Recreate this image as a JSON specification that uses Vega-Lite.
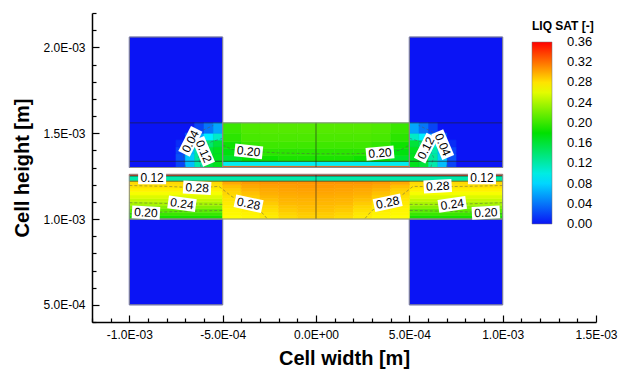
{
  "$schema": "https://vega.github.io/schema/vega-lite/v6.json",
  "width": 504,
  "height": 309,
  "autosize": {"type": "none"},
  "padding": {"left": 92, "top": 13, "right": 26, "bottom": 49},
  "background": "white",
  "config": {"view": {"stroke": null}, "font": "Liberation Sans"},
  "datasets": {
    "cells": [
      {"x":-0.001,"x2":-0.0005,"y":0.0005,"y2":0.001,"s":0},
      {"x":0.0005,"x2":0.001,"y":0.0005,"y2":0.001,"s":0},
      {"x":-0.001,"x2":-0.0005,"y":0.0013,"y2":0.00206,"s":0},
      {"x":0.0005,"x2":0.001,"y":0.0013,"y2":0.00206,"s":0},

      {"x":-0.00075,"x2":-0.0007,"y":0.0013,"y2":0.00134,"s":0.02},
      {"x":-0.0007,"x2":-0.00065,"y":0.0013,"y2":0.00134,"s":0.07},
      {"x":-0.00065,"x2":-0.0006,"y":0.0013,"y2":0.00134,"s":0.12},
      {"x":-0.0006,"x2":-0.00055,"y":0.0013,"y2":0.00134,"s":0.16},
      {"x":-0.00055,"x2":-0.0005,"y":0.0013,"y2":0.00134,"s":0.17},
      {"x":-0.00075,"x2":-0.0007,"y":0.00134,"y2":0.00138,"s":0.025},
      {"x":-0.0007,"x2":-0.00065,"y":0.00134,"y2":0.00138,"s":0.075},
      {"x":-0.00065,"x2":-0.0006,"y":0.00134,"y2":0.00138,"s":0.125},
      {"x":-0.0006,"x2":-0.00055,"y":0.00134,"y2":0.00138,"s":0.17},
      {"x":-0.00055,"x2":-0.0005,"y":0.00134,"y2":0.00138,"s":0.17},
      {"x":-0.00075,"x2":-0.0007,"y":0.00138,"y2":0.00142,"s":0.02},
      {"x":-0.0007,"x2":-0.00065,"y":0.00138,"y2":0.00142,"s":0.07},
      {"x":-0.00065,"x2":-0.0006,"y":0.00138,"y2":0.00142,"s":0.12},
      {"x":-0.0006,"x2":-0.00055,"y":0.00138,"y2":0.00142,"s":0.16},
      {"x":-0.00055,"x2":-0.0005,"y":0.00138,"y2":0.00142,"s":0.17},
      {"x":-0.00075,"x2":-0.0007,"y":0.00142,"y2":0.00146,"s":0.01},
      {"x":-0.0007,"x2":-0.00065,"y":0.00142,"y2":0.00146,"s":0.058},
      {"x":-0.00065,"x2":-0.0006,"y":0.00142,"y2":0.00146,"s":0.1},
      {"x":-0.0006,"x2":-0.00055,"y":0.00142,"y2":0.00146,"s":0.14},
      {"x":-0.00055,"x2":-0.0005,"y":0.00142,"y2":0.00146,"s":0.16},
      {"x":-0.0007,"x2":-0.00065,"y":0.00146,"y2":0.0015,"s":0.03},
      {"x":-0.00065,"x2":-0.0006,"y":0.00146,"y2":0.0015,"s":0.06},
      {"x":-0.0006,"x2":-0.00055,"y":0.00146,"y2":0.0015,"s":0.09},
      {"x":-0.00055,"x2":-0.0005,"y":0.00146,"y2":0.0015,"s":0.11},
      {"x":-0.00065,"x2":-0.0006,"y":0.0015,"y2":0.00156,"s":0.02},
      {"x":-0.0006,"x2":-0.00055,"y":0.0015,"y2":0.00156,"s":0.04},
      {"x":-0.00055,"x2":-0.0005,"y":0.0015,"y2":0.00156,"s":0.06},

      {"x":0.0007,"x2":0.00075,"y":0.0013,"y2":0.00134,"s":0.02},
      {"x":0.00065,"x2":0.0007,"y":0.0013,"y2":0.00134,"s":0.07},
      {"x":0.0006,"x2":0.00065,"y":0.0013,"y2":0.00134,"s":0.12},
      {"x":0.00055,"x2":0.0006,"y":0.0013,"y2":0.00134,"s":0.16},
      {"x":0.0005,"x2":0.00055,"y":0.0013,"y2":0.00134,"s":0.17},
      {"x":0.0007,"x2":0.00075,"y":0.00134,"y2":0.00138,"s":0.025},
      {"x":0.00065,"x2":0.0007,"y":0.00134,"y2":0.00138,"s":0.075},
      {"x":0.0006,"x2":0.00065,"y":0.00134,"y2":0.00138,"s":0.125},
      {"x":0.00055,"x2":0.0006,"y":0.00134,"y2":0.00138,"s":0.17},
      {"x":0.0005,"x2":0.00055,"y":0.00134,"y2":0.00138,"s":0.17},
      {"x":0.0007,"x2":0.00075,"y":0.00138,"y2":0.00142,"s":0.02},
      {"x":0.00065,"x2":0.0007,"y":0.00138,"y2":0.00142,"s":0.07},
      {"x":0.0006,"x2":0.00065,"y":0.00138,"y2":0.00142,"s":0.12},
      {"x":0.00055,"x2":0.0006,"y":0.00138,"y2":0.00142,"s":0.16},
      {"x":0.0005,"x2":0.00055,"y":0.00138,"y2":0.00142,"s":0.17},
      {"x":0.0007,"x2":0.00075,"y":0.00142,"y2":0.00146,"s":0.01},
      {"x":0.00065,"x2":0.0007,"y":0.00142,"y2":0.00146,"s":0.058},
      {"x":0.0006,"x2":0.00065,"y":0.00142,"y2":0.00146,"s":0.1},
      {"x":0.00055,"x2":0.0006,"y":0.00142,"y2":0.00146,"s":0.14},
      {"x":0.0005,"x2":0.00055,"y":0.00142,"y2":0.00146,"s":0.16},
      {"x":0.00065,"x2":0.0007,"y":0.00146,"y2":0.0015,"s":0.03},
      {"x":0.0006,"x2":0.00065,"y":0.00146,"y2":0.0015,"s":0.06},
      {"x":0.00055,"x2":0.0006,"y":0.00146,"y2":0.0015,"s":0.09},
      {"x":0.0005,"x2":0.00055,"y":0.00146,"y2":0.0015,"s":0.11},
      {"x":0.0006,"x2":0.00065,"y":0.0015,"y2":0.00156,"s":0.02},
      {"x":0.00055,"x2":0.0006,"y":0.0015,"y2":0.00156,"s":0.04},
      {"x":0.0005,"x2":0.00055,"y":0.0015,"y2":0.00156,"s":0.06},

      {"x":-0.0005,"x2":0.0005,"y":0.0013,"y2":0.00131,"s":0.33},
      {"x":-0.0005,"x2":0.0005,"y":0.00131,"y2":0.001335,"s":0.095},

      {"x":-0.0005,"x2":-0.0004,"y":0.001335,"y2":0.00137,"s":0.165},
      {"x":-0.0004,"x2":-0.0003,"y":0.001335,"y2":0.00137,"s":0.18},
      {"x":-0.0003,"x2":-0.0002,"y":0.001335,"y2":0.00137,"s":0.185},
      {"x":-0.0002,"x2":-0.0001,"y":0.001335,"y2":0.00137,"s":0.19},
      {"x":-0.0001,"x2":0,"y":0.001335,"y2":0.00137,"s":0.19},
      {"x":0,"x2":0.0001,"y":0.001335,"y2":0.00137,"s":0.19},
      {"x":0.0001,"x2":0.0002,"y":0.001335,"y2":0.00137,"s":0.19},
      {"x":0.0002,"x2":0.0003,"y":0.001335,"y2":0.00137,"s":0.185},
      {"x":0.0003,"x2":0.0004,"y":0.001335,"y2":0.00137,"s":0.18},
      {"x":0.0004,"x2":0.0005,"y":0.001335,"y2":0.00137,"s":0.165},

      {"x":-0.0005,"x2":-0.0004,"y":0.00137,"y2":0.00141,"s":0.175},
      {"x":-0.0004,"x2":-0.0003,"y":0.00137,"y2":0.00141,"s":0.19},
      {"x":-0.0003,"x2":-0.0002,"y":0.00137,"y2":0.00141,"s":0.195},
      {"x":-0.0002,"x2":-0.0001,"y":0.00137,"y2":0.00141,"s":0.195},
      {"x":-0.0001,"x2":0,"y":0.00137,"y2":0.00141,"s":0.195},
      {"x":0,"x2":0.0001,"y":0.00137,"y2":0.00141,"s":0.195},
      {"x":0.0001,"x2":0.0002,"y":0.00137,"y2":0.00141,"s":0.195},
      {"x":0.0002,"x2":0.0003,"y":0.00137,"y2":0.00141,"s":0.195},
      {"x":0.0003,"x2":0.0004,"y":0.00137,"y2":0.00141,"s":0.19},
      {"x":0.0004,"x2":0.0005,"y":0.00137,"y2":0.00141,"s":0.175},

      {"x":-0.0005,"x2":-0.0004,"y":0.00141,"y2":0.00145,"s":0.185},
      {"x":-0.0004,"x2":-0.0003,"y":0.00141,"y2":0.00145,"s":0.198},
      {"x":-0.0003,"x2":-0.0002,"y":0.00141,"y2":0.00145,"s":0.202},
      {"x":-0.0002,"x2":-0.0001,"y":0.00141,"y2":0.00145,"s":0.202},
      {"x":-0.0001,"x2":0,"y":0.00141,"y2":0.00145,"s":0.202},
      {"x":0,"x2":0.0001,"y":0.00141,"y2":0.00145,"s":0.202},
      {"x":0.0001,"x2":0.0002,"y":0.00141,"y2":0.00145,"s":0.202},
      {"x":0.0002,"x2":0.0003,"y":0.00141,"y2":0.00145,"s":0.202},
      {"x":0.0003,"x2":0.0004,"y":0.00141,"y2":0.00145,"s":0.198},
      {"x":0.0004,"x2":0.0005,"y":0.00141,"y2":0.00145,"s":0.185},

      {"x":-0.0005,"x2":-0.0004,"y":0.00145,"y2":0.0015,"s":0.195},
      {"x":-0.0004,"x2":-0.0003,"y":0.00145,"y2":0.0015,"s":0.205},
      {"x":-0.0003,"x2":-0.0002,"y":0.00145,"y2":0.0015,"s":0.207},
      {"x":-0.0002,"x2":-0.0001,"y":0.00145,"y2":0.0015,"s":0.207},
      {"x":-0.0001,"x2":0,"y":0.00145,"y2":0.0015,"s":0.207},
      {"x":0,"x2":0.0001,"y":0.00145,"y2":0.0015,"s":0.207},
      {"x":0.0001,"x2":0.0002,"y":0.00145,"y2":0.0015,"s":0.207},
      {"x":0.0002,"x2":0.0003,"y":0.00145,"y2":0.0015,"s":0.207},
      {"x":0.0003,"x2":0.0004,"y":0.00145,"y2":0.0015,"s":0.205},
      {"x":0.0004,"x2":0.0005,"y":0.00145,"y2":0.0015,"s":0.195},

      {"x":-0.0005,"x2":-0.0004,"y":0.0015,"y2":0.00156,"s":0.2},
      {"x":-0.0004,"x2":-0.0003,"y":0.0015,"y2":0.00156,"s":0.208},
      {"x":-0.0003,"x2":-0.0002,"y":0.0015,"y2":0.00156,"s":0.21},
      {"x":-0.0002,"x2":-0.0001,"y":0.0015,"y2":0.00156,"s":0.21},
      {"x":-0.0001,"x2":0,"y":0.0015,"y2":0.00156,"s":0.21},
      {"x":0,"x2":0.0001,"y":0.0015,"y2":0.00156,"s":0.21},
      {"x":0.0001,"x2":0.0002,"y":0.0015,"y2":0.00156,"s":0.21},
      {"x":0.0002,"x2":0.0003,"y":0.0015,"y2":0.00156,"s":0.21},
      {"x":0.0003,"x2":0.0004,"y":0.0015,"y2":0.00156,"s":0.208},
      {"x":0.0004,"x2":0.0005,"y":0.0015,"y2":0.00156,"s":0.2},

      {"x":-0.001,"x2":0.001,"y":0.00125,"y2":0.00126,"s":0.35},
      {"x":-0.001,"x2":0.001,"y":0.00122,"y2":0.00125,"s":0.12},

      {"x":-0.001,"x2":-0.0005,"y":0.001,"y2":0.00102,"s":0.187},
      {"x":-0.001,"x2":-0.0005,"y":0.00102,"y2":0.00104,"s":0.2},
      {"x":-0.001,"x2":-0.0005,"y":0.00104,"y2":0.00106,"s":0.213},
      {"x":-0.001,"x2":-0.0005,"y":0.00106,"y2":0.00108,"s":0.227},
      {"x":-0.001,"x2":-0.0005,"y":0.00108,"y2":0.0011,"s":0.24},
      {"x":-0.001,"x2":-0.0005,"y":0.0011,"y2":0.00112,"s":0.249},
      {"x":-0.001,"x2":-0.0005,"y":0.00112,"y2":0.00114,"s":0.258},
      {"x":-0.001,"x2":-0.0005,"y":0.00114,"y2":0.00116,"s":0.267},
      {"x":-0.001,"x2":-0.0005,"y":0.00116,"y2":0.00118,"s":0.275},
      {"x":-0.001,"x2":-0.0005,"y":0.00118,"y2":0.0012,"s":0.28},
      {"x":-0.001,"x2":-0.0005,"y":0.0012,"y2":0.00122,"s":0.283},
      {"x":0.0005,"x2":0.001,"y":0.001,"y2":0.00102,"s":0.187},
      {"x":0.0005,"x2":0.001,"y":0.00102,"y2":0.00104,"s":0.2},
      {"x":0.0005,"x2":0.001,"y":0.00104,"y2":0.00106,"s":0.213},
      {"x":0.0005,"x2":0.001,"y":0.00106,"y2":0.00108,"s":0.227},
      {"x":0.0005,"x2":0.001,"y":0.00108,"y2":0.0011,"s":0.24},
      {"x":0.0005,"x2":0.001,"y":0.0011,"y2":0.00112,"s":0.249},
      {"x":0.0005,"x2":0.001,"y":0.00112,"y2":0.00114,"s":0.258},
      {"x":0.0005,"x2":0.001,"y":0.00114,"y2":0.00116,"s":0.267},
      {"x":0.0005,"x2":0.001,"y":0.00116,"y2":0.00118,"s":0.275},
      {"x":0.0005,"x2":0.001,"y":0.00118,"y2":0.0012,"s":0.28},
      {"x":0.0005,"x2":0.001,"y":0.0012,"y2":0.00122,"s":0.283},

      {"x":-0.0005,"x2":-0.0004,"y":0.001,"y2":0.00102,"s":0.27},
      {"x":-0.0004,"x2":-0.0003,"y":0.001,"y2":0.00102,"s":0.272},
      {"x":-0.0003,"x2":-0.0002,"y":0.001,"y2":0.00102,"s":0.276},
      {"x":-0.0002,"x2":-0.0001,"y":0.001,"y2":0.00102,"s":0.282},
      {"x":-0.0001,"x2":0,"y":0.001,"y2":0.00102,"s":0.286},
      {"x":0,"x2":0.0001,"y":0.001,"y2":0.00102,"s":0.286},
      {"x":0.0001,"x2":0.0002,"y":0.001,"y2":0.00102,"s":0.282},
      {"x":0.0002,"x2":0.0003,"y":0.001,"y2":0.00102,"s":0.276},
      {"x":0.0003,"x2":0.0004,"y":0.001,"y2":0.00102,"s":0.272},
      {"x":0.0004,"x2":0.0005,"y":0.001,"y2":0.00102,"s":0.27},

      {"x":-0.0005,"x2":-0.0004,"y":0.00102,"y2":0.00104,"s":0.272},
      {"x":-0.0004,"x2":-0.0003,"y":0.00102,"y2":0.00104,"s":0.274},
      {"x":-0.0003,"x2":-0.0002,"y":0.00102,"y2":0.00104,"s":0.278},
      {"x":-0.0002,"x2":-0.0001,"y":0.00102,"y2":0.00104,"s":0.285},
      {"x":-0.0001,"x2":0,"y":0.00102,"y2":0.00104,"s":0.288},
      {"x":0,"x2":0.0001,"y":0.00102,"y2":0.00104,"s":0.288},
      {"x":0.0001,"x2":0.0002,"y":0.00102,"y2":0.00104,"s":0.285},
      {"x":0.0002,"x2":0.0003,"y":0.00102,"y2":0.00104,"s":0.278},
      {"x":0.0003,"x2":0.0004,"y":0.00102,"y2":0.00104,"s":0.274},
      {"x":0.0004,"x2":0.0005,"y":0.00102,"y2":0.00104,"s":0.272},

      {"x":-0.0005,"x2":-0.0004,"y":0.00104,"y2":0.00106,"s":0.273},
      {"x":-0.0004,"x2":-0.0003,"y":0.00104,"y2":0.00106,"s":0.276},
      {"x":-0.0003,"x2":-0.0002,"y":0.00104,"y2":0.00106,"s":0.281},
      {"x":-0.0002,"x2":-0.0001,"y":0.00104,"y2":0.00106,"s":0.288},
      {"x":-0.0001,"x2":0,"y":0.00104,"y2":0.00106,"s":0.291},
      {"x":0,"x2":0.0001,"y":0.00104,"y2":0.00106,"s":0.291},
      {"x":0.0001,"x2":0.0002,"y":0.00104,"y2":0.00106,"s":0.288},
      {"x":0.0002,"x2":0.0003,"y":0.00104,"y2":0.00106,"s":0.281},
      {"x":0.0003,"x2":0.0004,"y":0.00104,"y2":0.00106,"s":0.276},
      {"x":0.0004,"x2":0.0005,"y":0.00104,"y2":0.00106,"s":0.273},

      {"x":-0.0005,"x2":-0.0004,"y":0.00106,"y2":0.00108,"s":0.275},
      {"x":-0.0004,"x2":-0.0003,"y":0.00106,"y2":0.00108,"s":0.278},
      {"x":-0.0003,"x2":-0.0002,"y":0.00106,"y2":0.00108,"s":0.284},
      {"x":-0.0002,"x2":-0.0001,"y":0.00106,"y2":0.00108,"s":0.291},
      {"x":-0.0001,"x2":0,"y":0.00106,"y2":0.00108,"s":0.293},
      {"x":0,"x2":0.0001,"y":0.00106,"y2":0.00108,"s":0.293},
      {"x":0.0001,"x2":0.0002,"y":0.00106,"y2":0.00108,"s":0.291},
      {"x":0.0002,"x2":0.0003,"y":0.00106,"y2":0.00108,"s":0.284},
      {"x":0.0003,"x2":0.0004,"y":0.00106,"y2":0.00108,"s":0.278},
      {"x":0.0004,"x2":0.0005,"y":0.00106,"y2":0.00108,"s":0.275},

      {"x":-0.0005,"x2":-0.0004,"y":0.00108,"y2":0.0011,"s":0.277},
      {"x":-0.0004,"x2":-0.0003,"y":0.00108,"y2":0.0011,"s":0.281},
      {"x":-0.0003,"x2":-0.0002,"y":0.00108,"y2":0.0011,"s":0.288},
      {"x":-0.0002,"x2":-0.0001,"y":0.00108,"y2":0.0011,"s":0.294},
      {"x":-0.0001,"x2":0,"y":0.00108,"y2":0.0011,"s":0.295},
      {"x":0,"x2":0.0001,"y":0.00108,"y2":0.0011,"s":0.295},
      {"x":0.0001,"x2":0.0002,"y":0.00108,"y2":0.0011,"s":0.294},
      {"x":0.0002,"x2":0.0003,"y":0.00108,"y2":0.0011,"s":0.288},
      {"x":0.0003,"x2":0.0004,"y":0.00108,"y2":0.0011,"s":0.281},
      {"x":0.0004,"x2":0.0005,"y":0.00108,"y2":0.0011,"s":0.277},

      {"x":-0.0005,"x2":-0.0004,"y":0.0011,"y2":0.00112,"s":0.279},
      {"x":-0.0004,"x2":-0.0003,"y":0.0011,"y2":0.00112,"s":0.284},
      {"x":-0.0003,"x2":-0.0002,"y":0.0011,"y2":0.00112,"s":0.292},
      {"x":-0.0002,"x2":-0.0001,"y":0.0011,"y2":0.00112,"s":0.296},
      {"x":-0.0001,"x2":0,"y":0.0011,"y2":0.00112,"s":0.297},
      {"x":0,"x2":0.0001,"y":0.0011,"y2":0.00112,"s":0.297},
      {"x":0.0001,"x2":0.0002,"y":0.0011,"y2":0.00112,"s":0.296},
      {"x":0.0002,"x2":0.0003,"y":0.0011,"y2":0.00112,"s":0.292},
      {"x":0.0003,"x2":0.0004,"y":0.0011,"y2":0.00112,"s":0.284},
      {"x":0.0004,"x2":0.0005,"y":0.0011,"y2":0.00112,"s":0.279},

      {"x":-0.0005,"x2":-0.0004,"y":0.00112,"y2":0.00114,"s":0.281},
      {"x":-0.0004,"x2":-0.0003,"y":0.00112,"y2":0.00114,"s":0.288},
      {"x":-0.0003,"x2":-0.0002,"y":0.00112,"y2":0.00114,"s":0.295},
      {"x":-0.0002,"x2":-0.0001,"y":0.00112,"y2":0.00114,"s":0.298},
      {"x":-0.0001,"x2":0,"y":0.00112,"y2":0.00114,"s":0.299},
      {"x":0,"x2":0.0001,"y":0.00112,"y2":0.00114,"s":0.299},
      {"x":0.0001,"x2":0.0002,"y":0.00112,"y2":0.00114,"s":0.298},
      {"x":0.0002,"x2":0.0003,"y":0.00112,"y2":0.00114,"s":0.295},
      {"x":0.0003,"x2":0.0004,"y":0.00112,"y2":0.00114,"s":0.288},
      {"x":0.0004,"x2":0.0005,"y":0.00112,"y2":0.00114,"s":0.281},

      {"x":-0.0005,"x2":-0.0004,"y":0.00114,"y2":0.00116,"s":0.284},
      {"x":-0.0004,"x2":-0.0003,"y":0.00114,"y2":0.00116,"s":0.292},
      {"x":-0.0003,"x2":-0.0002,"y":0.00114,"y2":0.00116,"s":0.298},
      {"x":-0.0002,"x2":-0.0001,"y":0.00114,"y2":0.00116,"s":0.3},
      {"x":-0.0001,"x2":0,"y":0.00114,"y2":0.00116,"s":0.301},
      {"x":0,"x2":0.0001,"y":0.00114,"y2":0.00116,"s":0.301},
      {"x":0.0001,"x2":0.0002,"y":0.00114,"y2":0.00116,"s":0.3},
      {"x":0.0002,"x2":0.0003,"y":0.00114,"y2":0.00116,"s":0.298},
      {"x":0.0003,"x2":0.0004,"y":0.00114,"y2":0.00116,"s":0.292},
      {"x":0.0004,"x2":0.0005,"y":0.00114,"y2":0.00116,"s":0.284},

      {"x":-0.0005,"x2":-0.0004,"y":0.00116,"y2":0.00118,"s":0.287},
      {"x":-0.0004,"x2":-0.0003,"y":0.00116,"y2":0.00118,"s":0.296},
      {"x":-0.0003,"x2":-0.0002,"y":0.00116,"y2":0.00118,"s":0.3},
      {"x":-0.0002,"x2":-0.0001,"y":0.00116,"y2":0.00118,"s":0.302},
      {"x":-0.0001,"x2":0,"y":0.00116,"y2":0.00118,"s":0.303},
      {"x":0,"x2":0.0001,"y":0.00116,"y2":0.00118,"s":0.303},
      {"x":0.0001,"x2":0.0002,"y":0.00116,"y2":0.00118,"s":0.302},
      {"x":0.0002,"x2":0.0003,"y":0.00116,"y2":0.00118,"s":0.3},
      {"x":0.0003,"x2":0.0004,"y":0.00116,"y2":0.00118,"s":0.296},
      {"x":0.0004,"x2":0.0005,"y":0.00116,"y2":0.00118,"s":0.287},

      {"x":-0.0005,"x2":-0.0004,"y":0.00118,"y2":0.0012,"s":0.292},
      {"x":-0.0004,"x2":-0.0003,"y":0.00118,"y2":0.0012,"s":0.3},
      {"x":-0.0003,"x2":-0.0002,"y":0.00118,"y2":0.0012,"s":0.303},
      {"x":-0.0002,"x2":-0.0001,"y":0.00118,"y2":0.0012,"s":0.304},
      {"x":-0.0001,"x2":0,"y":0.00118,"y2":0.0012,"s":0.305},
      {"x":0,"x2":0.0001,"y":0.00118,"y2":0.0012,"s":0.305},
      {"x":0.0001,"x2":0.0002,"y":0.00118,"y2":0.0012,"s":0.304},
      {"x":0.0002,"x2":0.0003,"y":0.00118,"y2":0.0012,"s":0.303},
      {"x":0.0003,"x2":0.0004,"y":0.00118,"y2":0.0012,"s":0.3},
      {"x":0.0004,"x2":0.0005,"y":0.00118,"y2":0.0012,"s":0.292},

      {"x":-0.0005,"x2":-0.0004,"y":0.0012,"y2":0.00122,"s":0.3},
      {"x":-0.0004,"x2":-0.0003,"y":0.0012,"y2":0.00122,"s":0.305},
      {"x":-0.0003,"x2":-0.0002,"y":0.0012,"y2":0.00122,"s":0.307},
      {"x":-0.0002,"x2":-0.0001,"y":0.0012,"y2":0.00122,"s":0.307},
      {"x":-0.0001,"x2":0,"y":0.0012,"y2":0.00122,"s":0.307},
      {"x":0,"x2":0.0001,"y":0.0012,"y2":0.00122,"s":0.307},
      {"x":0.0001,"x2":0.0002,"y":0.0012,"y2":0.00122,"s":0.307},
      {"x":0.0002,"x2":0.0003,"y":0.0012,"y2":0.00122,"s":0.307},
      {"x":0.0003,"x2":0.0004,"y":0.0012,"y2":0.00122,"s":0.305},
      {"x":0.0004,"x2":0.0005,"y":0.0012,"y2":0.00122,"s":0.3}
    ],
    "outlines": [
      {"x":-0.001,"x2":-0.0005,"y":0.0005,"y2":0.001},
      {"x":0.0005,"x2":0.001,"y":0.0005,"y2":0.001},
      {"x":-0.001,"x2":-0.0005,"y":0.0013,"y2":0.00206},
      {"x":0.0005,"x2":0.001,"y":0.0013,"y2":0.00206},
      {"x":-0.0005,"x2":0.0005,"y":0.0013,"y2":0.00156},
      {"x":-0.001,"x2":0.001,"y":0.001,"y2":0.00126}
    ],
    "mesh": [
      {"x":0,"x2":0,"y":0.0013,"y2":0.00156},
      {"x":0,"x2":0,"y":0.001,"y2":0.00126},
      {"x":-0.001,"x2":-0.0005,"y":0.00156,"y2":0.00156},
      {"x":0.0005,"x2":0.001,"y":0.00156,"y2":0.00156},
      {"x":-0.001,"x2":0.001,"y":0.001336,"y2":0.001336},
      {"x":-0.001,"x2":0.001,"y":0.00125,"y2":0.00125},
      {"x":-0.001,"x2":0.001,"y":0.00122,"y2":0.00122}
    ],
    "contours": [
      {"c":"u20","i":1,"x":-0.0005,"y":0.00143},
      {"c":"u20","i":2,"x":-0.00045,"y":0.001405},
      {"c":"u20","i":3,"x":-0.00036,"y":0.001395},
      {"c":"u20","i":4,"x":-0.0002,"y":0.001385},
      {"c":"u20","i":5,"x":0,"y":0.00138},
      {"c":"u20","i":6,"x":0.0002,"y":0.00138},
      {"c":"u20","i":7,"x":0.00034,"y":0.001385},
      {"c":"u20","i":8,"x":0.00045,"y":0.0014},
      {"c":"u20","i":9,"x":0.0005,"y":0.00143},
      {"c":"l12","i":1,"x":-0.000615,"y":0.0013},
      {"c":"l12","i":2,"x":-0.00063,"y":0.00136},
      {"c":"l12","i":3,"x":-0.000605,"y":0.00141},
      {"c":"l12","i":4,"x":-0.00056,"y":0.00145},
      {"c":"l12","i":5,"x":-0.0005,"y":0.00147},
      {"c":"l04","i":1,"x":-0.0007,"y":0.0013},
      {"c":"l04","i":2,"x":-0.00071,"y":0.00137},
      {"c":"l04","i":3,"x":-0.00068,"y":0.00145},
      {"c":"l04","i":4,"x":-0.00062,"y":0.00151},
      {"c":"l04","i":5,"x":-0.00055,"y":0.001545},
      {"c":"r12","i":1,"x":0.000615,"y":0.0013},
      {"c":"r12","i":2,"x":0.00063,"y":0.00136},
      {"c":"r12","i":3,"x":0.000605,"y":0.00141},
      {"c":"r12","i":4,"x":0.00056,"y":0.00145},
      {"c":"r12","i":5,"x":0.0005,"y":0.00147},
      {"c":"r04","i":1,"x":0.0007,"y":0.0013},
      {"c":"r04","i":2,"x":0.00071,"y":0.00137},
      {"c":"r04","i":3,"x":0.00068,"y":0.00145},
      {"c":"r04","i":4,"x":0.00062,"y":0.00151},
      {"c":"r04","i":5,"x":0.00055,"y":0.001545},
      {"c":"a28","i":1,"x":-0.001,"y":0.001195},
      {"c":"a28","i":2,"x":-0.0008,"y":0.00119},
      {"c":"a28","i":3,"x":-0.00064,"y":0.001182},
      {"c":"a28","i":4,"x":-0.00052,"y":0.00119},
      {"c":"a28","i":5,"x":-0.00045,"y":0.00113},
      {"c":"a28","i":6,"x":-0.00036,"y":0.00109},
      {"c":"a28","i":7,"x":-0.0003,"y":0.00105},
      {"c":"a28","i":8,"x":-0.00026,"y":0.001},
      {"c":"b28","i":1,"x":0.001,"y":0.001195},
      {"c":"b28","i":2,"x":0.0008,"y":0.00119},
      {"c":"b28","i":3,"x":0.00065,"y":0.001188},
      {"c":"b28","i":4,"x":0.00052,"y":0.00119},
      {"c":"b28","i":5,"x":0.00045,"y":0.00113},
      {"c":"b28","i":6,"x":0.00038,"y":0.001095},
      {"c":"b28","i":7,"x":0.0003,"y":0.00105},
      {"c":"b28","i":8,"x":0.00026,"y":0.001},
      {"c":"a24","i":1,"x":-0.001,"y":0.001095},
      {"c":"a24","i":2,"x":-0.00072,"y":0.001089},
      {"c":"a24","i":3,"x":-0.0005,"y":0.001085},
      {"c":"b24","i":1,"x":0.001,"y":0.001095},
      {"c":"b24","i":2,"x":0.00073,"y":0.001085},
      {"c":"b24","i":3,"x":0.0005,"y":0.001085},
      {"c":"a20","i":1,"x":-0.001,"y":0.00103},
      {"c":"a20","i":2,"x":-0.00091,"y":0.001037},
      {"c":"a20","i":3,"x":-0.0007,"y":0.001045},
      {"c":"a20","i":4,"x":-0.0005,"y":0.00105},
      {"c":"b20","i":1,"x":0.001,"y":0.00103},
      {"c":"b20","i":2,"x":0.00091,"y":0.001037},
      {"c":"b20","i":3,"x":0.0007,"y":0.001045},
      {"c":"b20","i":4,"x":0.0005,"y":0.00105}
    ],
    "labels": [
      {"t":"0.04","x":-0.000673,"y":0.001452,"a":-63},
      {"t":"0.12","x":-0.000602,"y":0.001394,"a":67},
      {"t":"0.04","x":0.000679,"y":0.001433,"a":67},
      {"t":"0.12","x":0.000589,"y":0.001413,"a":-63},
      {"t":"0.20","x":-0.000361,"y":0.001394,"a":6},
      {"t":"0.20","x":0.000343,"y":0.001384,"a":-5},
      {"t":"0.12","x":-0.000878,"y":0.00124,"a":0},
      {"t":"0.28","x":-0.000637,"y":0.001182,"a":3},
      {"t":"0.24","x":-0.000718,"y":0.001089,"a":8},
      {"t":"0.20","x":-0.000911,"y":0.001037,"a":3},
      {"t":"0.28","x":-0.000361,"y":0.001089,"a":12},
      {"t":"0.28","x":0.000384,"y":0.001095,"a":-12},
      {"t":"0.28","x":0.000652,"y":0.001191,"a":-3},
      {"t":"0.24","x":0.00073,"y":0.001085,"a":-8},
      {"t":"0.20","x":0.00091,"y":0.001037,"a":-3},
      {"t":"0.12","x":0.000889,"y":0.00124,"a":0}
    ]
  },
  "layer": [
    {
      "data": {"name": "cells"},
      "mark": {"type": "rect", "strokeWidth": 0.6, "stroke": {"expr": "scale('color', datum.s)"}},
      "encoding": {
        "x": {
          "field": "x", "type": "quantitative",
          "scale": {"domain": [-0.0012, 0.0015], "nice": false, "zero": false},
          "axis": {
            "title": "Cell width [m]",
            "values": [-0.0012,-0.0011,-0.001,-0.0009,-0.0008,-0.0007,-0.0006,-0.0005,-0.0004,-0.0003,-0.0002,-0.0001,0,0.0001,0.0002,0.0003,0.0004,0.0005,0.0006,0.0007,0.0008,0.0009,0.001,0.0011,0.0012,0.0013,0.0014,0.0015],
            "tickCount": 100,
            "labelExpr": "abs(round(datum.value*1e4))%5==0 ? replace(replace(replace(format(datum.value,'.1e'),'e-','E-0'),'e+','E+0'),'\u2212','-') : ''",
            "tickSize": {"condition": {"test": "abs(round(datum.value*1e4))%5==0", "value": -7}, "value": -4},
            "labelOverlap": false, "labelFlush": false, "labelBound": false,
            "grid": false,
            "domainColor": "black", "domainWidth": 1.5,
            "tickColor": "black", "tickWidth": 1.2,
            "labelFont": "Liberation Sans", "labelFontSize": 12, "labelColor": "black", "labelPadding": 14,
            "titleFont": "Liberation Sans", "titleFontSize": 20, "titleFontWeight": "bold", "titleColor": "black", "titlePadding": 5
          }
        },
        "x2": {"field": "x2"},
        "y": {
          "field": "y", "type": "quantitative",
          "scale": {"domain": [0.0004, 0.0022], "nice": false, "zero": false},
          "axis": {
            "title": "Cell height [m]",
            "values": [0.0004,0.0005,0.0006,0.0007,0.0008,0.0009,0.001,0.0011,0.0012,0.0013,0.0014,0.0015,0.0016,0.0017,0.0018,0.0019,0.002,0.0021,0.0022],
            "tickCount": 100,
            "labelExpr": "abs(round(datum.value*1e4))%5==0 ? replace(replace(replace(format(datum.value,'.1e'),'e-','E-0'),'e+','E+0'),'\u2212','-') : ''",
            "tickSize": {"condition": {"test": "abs(round(datum.value*1e4))%5==0", "value": -7}, "value": -4},
            "labelOverlap": false, "labelFlush": false, "labelBound": false,
            "grid": false,
            "domainColor": "black", "domainWidth": 1.5,
            "tickColor": "black", "tickWidth": 1.2,
            "labelFont": "Liberation Sans", "labelFontSize": 12, "labelColor": "black", "labelPadding": 14,
            "titleFont": "Liberation Sans", "titleFontSize": 20, "titleFontWeight": "bold", "titleColor": "black", "titlePadding": 10
          }
        },
        "y2": {"field": "y2"},
        "color": {
          "field": "s", "type": "quantitative",
          "scale": {"domain": [0, 0.09, 0.18, 0.27, 0.36], "range": ["#0a14f5", "#00eeff", "#00e000", "#ffff00", "#ff0000"], "interpolate": "rgb"},
          "legend": {
            "type": "gradient",
            "title": "LIQ SAT [-]", "orient": "none", "legendX": 440, "legendY": 8,
            "direction": "vertical", "gradientLength": 182, "gradientThickness": 20,
            "values": [0, 0.04, 0.08, 0.12, 0.16, 0.2, 0.24, 0.28, 0.32, 0.36],
            "format": ".2f", "labelOverlap": false,
            "labelFont": "Liberation Sans", "labelFontSize": 13, "labelColor": "black", "labelOffset": 15,
            "titleFont": "Liberation Sans", "titleFontSize": 12, "titleFontWeight": "bold", "titleColor": "black", "titlePadding": 9,
            "gradientStrokeColor": "#777", "gradientStrokeWidth": 0.5,
            "encode": {"labels": {"update": {"baseline": {"value": "middle"}}}}
          }
        }
      }
    },
    {
      "data": {"name": "contours"},
      "mark": {"type": "line", "strokeDash": [3, 2], "strokeWidth": 0.8, "color": "#555555", "opacity": 0.6},
      "encoding": {
        "x": {"field": "x", "type": "quantitative"},
        "y": {"field": "y", "type": "quantitative"},
        "detail": {"field": "c", "type": "nominal"},
        "order": {"field": "i", "type": "quantitative"}
      }
    },
    {
      "data": {"name": "mesh"},
      "mark": {"type": "rule", "color": "#222222", "opacity": 0.75, "strokeWidth": 0.8},
      "encoding": {
        "x": {"field": "x", "type": "quantitative"},
        "x2": {"field": "x2"},
        "y": {"field": "y", "type": "quantitative"},
        "y2": {"field": "y2"}
      }
    },
    {
      "data": {"name": "outlines"},
      "mark": {"type": "rect", "filled": false, "stroke": "#8a8a8a", "strokeWidth": 1},
      "encoding": {
        "x": {"field": "x", "type": "quantitative"},
        "x2": {"field": "x2"},
        "y": {"field": "y", "type": "quantitative"},
        "y2": {"field": "y2"}
      }
    },
    {
      "data": {"name": "labels"},
      "mark": {"type": "point", "shape": "M-1,-0.46H1V0.46H-1Z", "filled": true, "fill": "white", "opacity": 1, "size": 784, "strokeWidth": 0},
      "encoding": {
        "x": {"field": "x", "type": "quantitative"},
        "y": {"field": "y", "type": "quantitative"},
        "angle": {"field": "a", "type": "quantitative", "scale": null}
      }
    },
    {
      "data": {"name": "labels"},
      "mark": {"type": "text", "font": "Liberation Sans", "fontSize": 12, "color": "black", "align": "center", "baseline": "middle"},
      "encoding": {
        "x": {"field": "x", "type": "quantitative"},
        "y": {"field": "y", "type": "quantitative"},
        "text": {"field": "t", "type": "nominal"},
        "angle": {"field": "a", "type": "quantitative", "scale": null}
      }
    }
  ]
}
